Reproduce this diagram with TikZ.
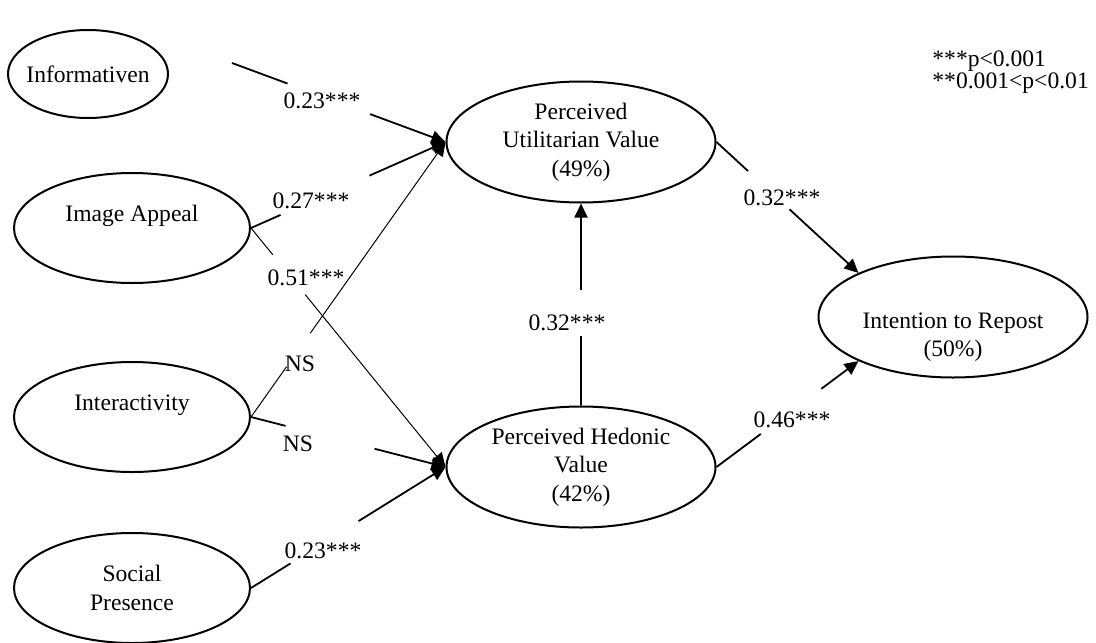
\documentclass[tikz,border=0pt]{standalone}
\usepackage{fontspec}
\setmainfont{Liberation Serif}
\usetikzlibrary{shapes.geometric, arrows.meta, calc}
\tikzset {
    >={Triangle[length=7pt, width=6.5pt]},
    latent/.style={ellipse, draw, line width=1pt, inner sep=0pt, align=center},
    exo/.style={latent, minimum width=118pt, minimum height=55pt},
    endo/.style={latent, minimum width=134.5pt, minimum height=60.5pt}
}

\begin{document}
\begin{tikzpicture}[
  x=0.5pt, y=-0.5pt,
  every node/.style={font=\fontsize{11.8}{14.2}\selectfont},
  link/.style={line width=0.9pt},
  thinlink/.style={line width=0.5pt},
  coef/.style={inner sep=0pt}
  ]

\useasboundingbox (0,0) rectangle (1096,642);

\node[latent, minimum width=80pt, minimum height=44pt, inner xsep=-3pt] (inf) at (88,74) {Informativen};
\node[exo] (img) at (132,228) {Image Appeal\\\mbox{}};
\node[exo] (inter) at (132,417) {Interactivity\\\mbox{}};
\node[exo] (soc) at (132,588) {Social\\Presence};
\node[endo] (util) at (581,142) {Perceived\\Utilitarian Value\\(49\%)};
\node[endo] (hed) at (581,467) {Perceived Hedonic\\Value\\(42\%)};
\node[endo, inner ysep=-4pt] (repost) at (953,317) {\strut\\[4pt]Intention to Repost\\(50\%)};

\node[align=left, anchor=north west, inner sep=0pt, font=\fontsize{11.8}{10}\selectfont] (key) at (932,50)
  {***p<0.001\\**0.001<p<0.01};

\node[coef] (c1) at (322,101) {0.23***};
\node[coef] (c2) at (311,201) {0.27***};
\node[coef] (c3) at (306,278) {0.51***};
\node[coef] (c4) at (300,364) {NS};
\node[coef] (c5) at (298,444) {NS};
\node[coef] (c6) at (323,551) {0.23***};
\node[coef] (c7) at (567,323) {0.32***};
\node[coef] (c8) at (782,198) {0.32***};
\node[coef] (c9) at (792,420) {0.46***};

\coordinate (infout) at (232,63);

\draw[link] (infout) -- ($(infout)!0.26!(util.west)$);
\draw[link, ->] ($(infout)!0.647!(util.west)$) -- (util.west);

\draw[link] (img.east) -- ($(img.east)!0.152!(util.west)$);
\draw[link, ->] ($(img.east)!0.609!(util.west)$) -- (util.west);

\draw[thinlink] (img.east) -- ($(img.east)!0.112!(hed.west)$);
\draw[thinlink, ->] ($(img.east)!0.279!(hed.west)$) -- (hed.west);

\draw[thinlink] (inter.east) -- ($(inter.east)!0.183!(util.west)$);
\draw[thinlink, ->] ($(inter.east)!0.305!(util.west)$) -- (util.west);

\draw[link] (inter.east) -- ($(inter.east)!0.178!(hed.west)$);
\draw[link, ->] ($(inter.east)!0.635!(hed.west)$) -- (hed.west);

\draw[link] (soc.east) -- ($(soc.east)!0.203!(hed.west)$);
\draw[link, ->] ($(soc.east)!0.553!(hed.west)$) -- (hed.west);

\draw[link] (hed.north) -- ($(hed.north)!0.343!(util.south)$);
\draw[link, ->] ($(hed.north)!0.574!(util.south)$) -- (util.south);

\draw[link] (util.east) -- ($(util.east)!0.222!(repost.155)$);
\draw[link, ->] ($(util.east)!0.514!(repost.155)$) -- (repost.155);

\draw[link] (hed.east) -- ($(hed.east)!0.312!(repost.205)$);
\draw[link, ->] ($(hed.east)!0.738!(repost.205)$) -- (repost.205);

\end{tikzpicture}
\end{document}
